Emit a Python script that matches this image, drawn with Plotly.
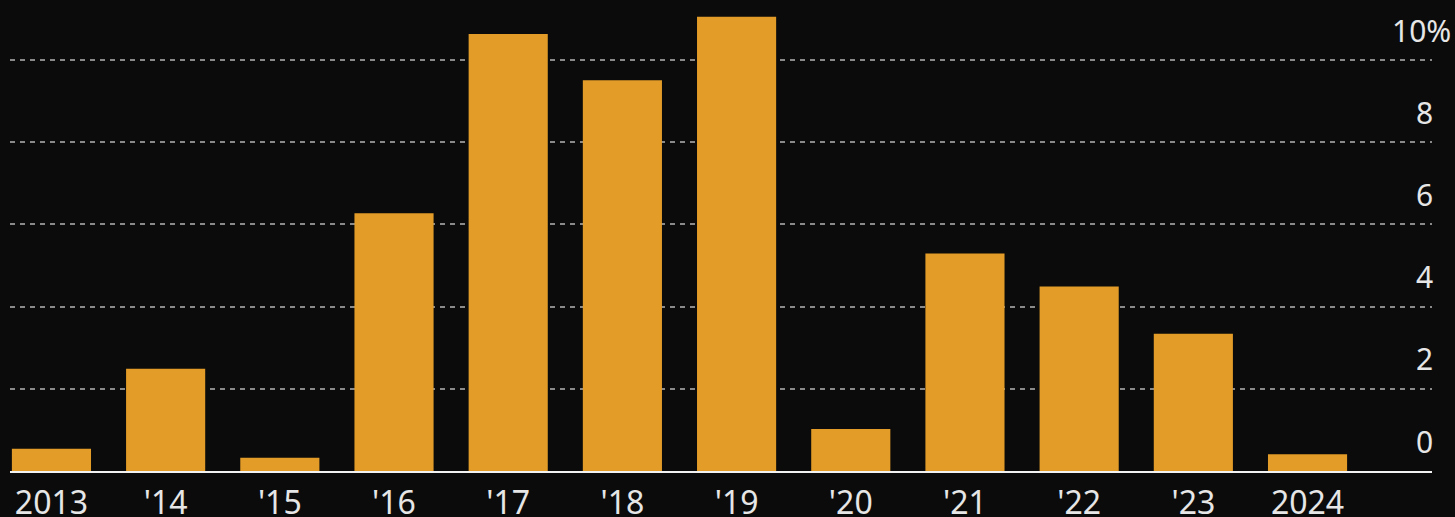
import plotly.graph_objects as go

categories = ["2013", "'14", "'15", "'16", "'17", "'18", "'19", "'20", "'21", "'22", "'23", "2024"]
values = [0.54, 2.49, 0.32, 6.27, 10.63, 9.51, 11.05, 1.02, 5.29, 4.49, 3.34, 0.41]
y_ticks = [0, 2, 4, 6, 8, 10]
y_tick_labels = ["0", "2", "4", "6", "8", "10%"]

BG = "#0b0b0b"
BAR = "#e39c27"
TXT = "#e6e6e6"
FONT = "Noto Sans"

fig = go.Figure(go.Bar(x=categories, y=values, marker=dict(color=BAR, line=dict(width=0))))

annotations = []
for v, lab in zip(y_ticks, y_tick_labels):
    shift = 21 if lab.endswith("%") else 3
    annotations.append(dict(x=1.0, xref="paper", y=v, yref="y", text=lab, showarrow=False,
                            xanchor="right", yanchor="middle", xshift=shift, yshift=30,
                            font=dict(family=FONT, size=30, color=TXT)))

fig.update_layout(
    width=1455, height=517,
    paper_bgcolor=BG, plot_bgcolor=BG,
    margin=dict(l=10, r=23, t=0, b=46, autoexpand=False),
    bargap=0.307,
    showlegend=False,
    font=dict(family=FONT, color=TXT),
    annotations=annotations,
    xaxis=dict(range=[-0.363, 12.09], showgrid=False, showline=True, linecolor="#f2f2f2",
               linewidth=2, ticks="", tickfont=dict(family=FONT, size=32, color=TXT),
               ticklabelstandoff=3, fixedrange=True, automargin=False),
    yaxis=dict(range=[0, 11.46], tickvals=[2, 4, 6, 8, 10], showticklabels=False,
               showgrid=True, gridcolor="#8a8a8a", gridwidth=2, griddash="5px,5px",
               zeroline=False, showline=False, automargin=False, fixedrange=True),
)

fig.write_html("out.html", config={"displayModeBar": False},
               post_script="document.body.style.margin='0';document.body.style.background='#0b0b0b';document.body.style.overflow='hidden';")
